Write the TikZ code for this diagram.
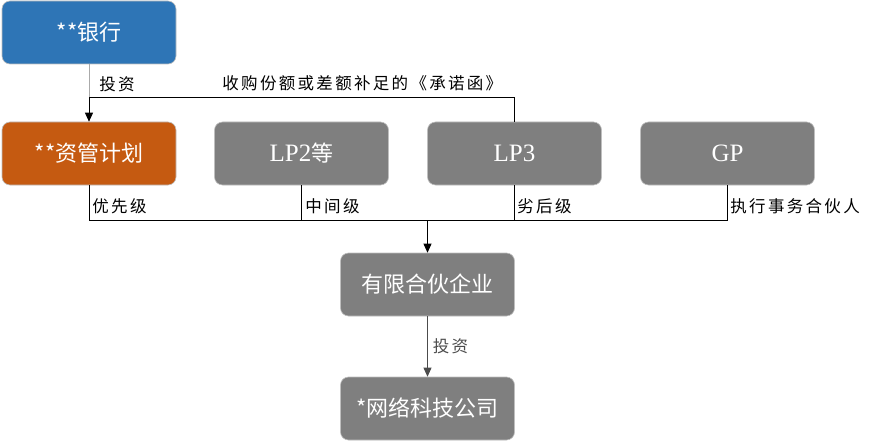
\documentclass[tikz,border=0pt]{standalone}
\usepackage{fontspec}
\setmainfont{Liberation Serif}
\newfontfamily\cjk{Noto Sans CJK SC}
\newfontfamily\cjklbl[LetterSpace=14]{Noto Sans CJK SC}
\usetikzlibrary{arrows.meta}
\definecolor{bankblue}{RGB}{46,117,182}
\definecolor{planorange}{RGB}{197,90,17}
\definecolor{boxgray}{RGB}{127,127,127}
\definecolor{linegray}{RGB}{170,170,170}
\newcommand\latin[1]{{\rmfamily\fontsize{25}{28}\selectfont #1}}

\begin{document}
\begin{tikzpicture}[x=1pt,y=-1pt,
  box/.style={rounded corners=8pt,minimum width=174pt,minimum height=63pt,
    text=white,font=\cjk\fontsize{22}{26}\selectfont,draw=white!75!black,line width=0.6pt},
  lbl/.style={font=\cjklbl\fontsize{16.5}{18}\selectfont,inner sep=1pt,anchor=west},
  tip/.style={-{Triangle[length=9pt,width=8pt]}},
  every path/.style={line width=0.8pt}]
  \useasboundingbox (0,0) rectangle (878,441);
  \node[box,fill=bankblue] (bank) at (89,32.5) {**银行};
  \node[box,fill=planorange] (plan) at (89,153.5) {**资管计划};
  \node[box,fill=boxgray] (lptwo) at (301.5,153.5) {\latin{LP2}等};
  \node[box,fill=boxgray] (lpthree) at (514.5,153.5) {\latin{LP3}};
  \node[box,fill=boxgray] (gp) at (727.5,153.5) {\latin{GP}};
  \node[box,fill=boxgray] (fund) at (427.5,284.5) {有限合伙企业};
  \node[box,fill=boxgray] (firm) at (427.5,408.5) {*网络科技公司};
  \coordinate (join) at (89,97);
  \coordinate (bus) at (427.5,220);
  % bank and letter of commitment
  \draw[linegray] (bank.south) -- (join);
  \draw[tip] (lpthree.north) |- (join) -- (plan.north);
  \node[lbl] (invest) at (98,84) {投资};
  \node[lbl] (promise) at (221,83) {收购份额或差额补足的《承诺函》};
  % partners into the fund
  \draw (plan.south) -- (plan.south |- bus) -- (gp.south |- bus) -- (gp.south);
  \draw (lptwo.south) -- (lptwo.south |- bus);
  \draw (lpthree.south) -- (lpthree.south |- bus);
  \draw[tip] (bus) -- (fund.north);
  \node[lbl] (senior) at (91,206) {优先级};
  \node[lbl] (middle) at (304,206) {中间级};
  \node[lbl] (junior) at (516,206) {劣后级};
  \node[lbl] (general) at (729,206) {执行事务合伙人};
  % fund into the firm
  \draw[tip,black!70] (fund) -- node[lbl,right=4pt] (investtwo) {投资} (firm);
\end{tikzpicture}
\end{document}
